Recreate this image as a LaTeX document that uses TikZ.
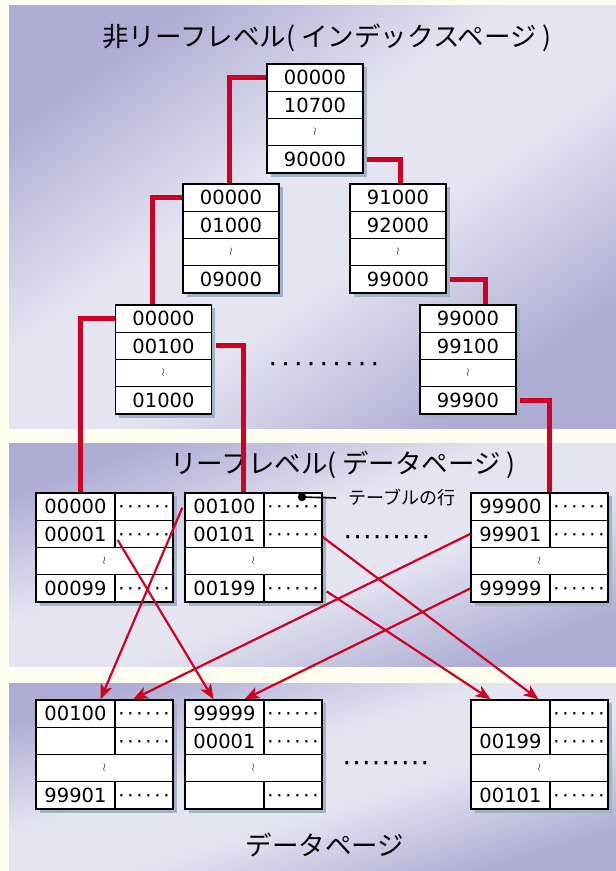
\documentclass[tikz,border=0pt]{standalone}
\usepackage{fontspec}
\setmainfont{DejaVu Sans}
\newfontfamily\jpfont{Noto Sans CJK JP}
\usetikzlibrary{arrows.meta,shadows}

\definecolor{pagecream}{RGB}{255,253,240}
\definecolor{paneedge}{RGB}{172,172,213}
\definecolor{panemid}{RGB}{229,229,241}
\definecolor{linkred}{RGB}{208,0,36}
\definecolor{shadowblue}{RGB}{160,180,198}

% light band across the middle, darker towards two corners
\pgfdeclareverticalshading{panelshade}{100bp}{color(0bp)=(paneedge); color(25bp)=(paneedge);
  color(44bp)=(panemid); color(56bp)=(panemid); color(75bp)=(paneedge); color(100bp)=(paneedge)}

% a row of dots, each in a slot of width #2
\newcommand\rowofdots[2]{\vphantom{0}\hbox to #1{\cleaders\hbox to #2{\hss\textperiodcentered\hss}\hfill}}
\newcommand\celldots{\rowofdots{54.5pt}{9pt}}
\newcommand\skiprow{{\fontsize{11}{12}\selectfont$\wr$}}

\begin{document}
\begin{tikzpicture}[x=1pt, y=-1pt,
  cell/.style={draw, line width=1.3pt, fill=white, inner sep=0pt, minimum height=27.25pt,
    font=\fontsize{19.5}{22}\selectfont,
    drop shadow={shadow xshift=3.5pt, shadow yshift=-3.5pt, fill=shadowblue, opacity=1}},
  idx/.style={cell, minimum width=96pt},
  key/.style={cell, minimum width=79pt},
  val/.style={cell, minimum width=58pt},
  gap/.style={cell, minimum width=137pt},
  title/.style={font=\jpfont\fontsize{26.5}{30}\selectfont, inner sep=0pt},
  bigdots/.style={font=\fontsize{27}{30}\selectfont, inner sep=0pt},
  treelink/.style={draw=linkred, line width=5pt},
  rowlink/.style={draw=linkred, line width=2.2pt, -{Stealth[length=15pt,width=12pt,inset=4pt]}}]

% page and the three panels
\fill[pagecream] (0,0) rectangle (616,871);
\useasboundingbox (0,0) rectangle (616,871);
\shade[shading=panelshade, shading angle=35] (9,5) rectangle (616,428);
\shade[shading=panelshade, shading angle=20] (9,443) rectangle (616,666);
\shade[shading=panelshade, shading angle=17] (9,683) rectangle (616,871);

\node[title] (nonleaf) at (327,38) {非リーフレベル( インデックスページ )};
\node[title] (leaflevel) at (343,465) {リーフレベル( データページ )};
\node[title] (datapages) at (325,845) {データページ};

% index pages
\node[idx] (top1) at (315,77.6) {00000};
\node[idx] (top2) at (315,104.9) {10700};
\node[idx] (top3) at (315,132.1) {\skiprow};
\node[idx] (top4) at (315,159.4) {90000};

\node[idx] (midl1) at (231,197.6) {00000};
\node[idx] (midl2) at (231,224.9) {01000};
\node[idx] (midl3) at (231,252.1) {\skiprow};
\node[idx] (midl4) at (231,279.4) {09000};

\node[idx] (midr1) at (398,197.6) {91000};
\node[idx] (midr2) at (398,224.9) {92000};
\node[idx] (midr3) at (398,252.1) {\skiprow};
\node[idx] (midr4) at (398,279.4) {99000};

\node[idx] (lowl1) at (163.5,318.6) {00000};
\node[idx] (lowl2) at (163.5,345.9) {00100};
\node[idx] (lowl3) at (163.5,373.1) {\skiprow};
\node[idx] (lowl4) at (163.5,400.4) {01000};

\node[idx] (lowr1) at (468,318.6) {99000};
\node[idx] (lowr2) at (468,345.9) {99100};
\node[idx] (lowr3) at (468,373.1) {\skiprow};
\node[idx] (lowr4) at (468,400.4) {99900};

\node[bigdots] (treedots) at (324,364) {\rowofdots{115pt}{12.75pt}};

% leaf pages
\node[key] (lfa1k) at (75.5,506.6) {00000};
\node[val] (lfa1v) at (144,506.6) {\celldots};
\node[key] (lfa2k) at (75.5,533.9) {00001};
\node[val] (lfa2v) at (144,533.9) {\celldots};
\node[gap] (lfa3) at (104.5,561.1) {\skiprow};
\node[key] (lfa4k) at (75.5,588.4) {00099};
\node[val] (lfa4v) at (144,588.4) {\celldots};

\node[key] (lfb1k) at (224.5,506.6) {00100};
\node[val] (lfb1v) at (293,506.6) {\celldots};
\node[key] (lfb2k) at (224.5,533.9) {00101};
\node[val] (lfb2v) at (293,533.9) {\celldots};
\node[gap] (lfb3) at (253.5,561.1) {\skiprow};
\node[key] (lfb4k) at (224.5,588.4) {00199};
\node[val] (lfb4v) at (293,588.4) {\celldots};

\node[key] (lfc1k) at (510.5,506.6) {99900};
\node[val] (lfc1v) at (579,506.6) {\celldots};
\node[key] (lfc2k) at (510.5,533.9) {99901};
\node[val] (lfc2v) at (579,533.9) {\celldots};
\node[gap] (lfc3) at (539.5,561.1) {\skiprow};
\node[key] (lfc4k) at (510.5,588.4) {99999};
\node[val] (lfc4v) at (579,588.4) {\celldots};

\node[bigdots] (leafdots) at (387,536.5) {\rowofdots{88pt}{9.75pt}};

% pointer to one table row
\coordinate (rowpin) at (302,497);
\node[font=\jpfont\fontsize{18}{20}\selectfont, inner sep=0pt, anchor=west] (rowlabel) at (348,498) {テーブルの行};
\draw[line width=1.6pt] (rowpin) -- ([xshift=-12pt]rowlabel.west);
\fill (rowpin) circle (4.2pt);

% data pages
\node[key] (dpa1k) at (75.5,713.6) {00100};
\node[val] (dpa1v) at (144,713.6) {\celldots};
\node[key] (dpa2k) at (75.5,740.9) {};
\node[val] (dpa2v) at (144,740.9) {\celldots};
\node[gap] (dpa3) at (104.5,768.1) {\skiprow};
\node[key] (dpa4k) at (75.5,795.4) {99901};
\node[val] (dpa4v) at (144,795.4) {\celldots};

\node[key] (dpb1k) at (224.5,713.6) {99999};
\node[val] (dpb1v) at (293,713.6) {\celldots};
\node[key] (dpb2k) at (224.5,740.9) {00001};
\node[val] (dpb2v) at (293,740.9) {\celldots};
\node[gap] (dpb3) at (253.5,768.1) {\skiprow};
\node[key] (dpb4k) at (224.5,795.4) {};
\node[val] (dpb4v) at (293,795.4) {\celldots};

\node[key] (dpc1k) at (510.5,713.6) {};
\node[val] (dpc1v) at (579,713.6) {\celldots};
\node[key] (dpc2k) at (510.5,740.9) {00199};
\node[val] (dpc2v) at (579,740.9) {\celldots};
\node[gap] (dpc3) at (539.5,768.1) {\skiprow};
\node[key] (dpc4k) at (510.5,795.4) {00101};
\node[val] (dpc4v) at (579,795.4) {\celldots};

\node[bigdots] (datadots) at (386,762.5) {\rowofdots{88pt}{9.75pt}};

% index links
\draw[treelink] (top1.west) -| ([xshift=-2pt]midl1.north);
\draw[treelink] ([xshift=3.5pt]top4.east) -| ([xshift=2pt]midr1.north);
\draw[treelink] (midl1.west) -| ([xshift=-11.5pt]lowl1.north);
\draw[treelink] ([xshift=3.5pt]midr4.east) -| ([xshift=17pt]lowr1.north);
\draw[treelink] (lowl1.west) -| ([xshift=4.5pt]lfa1k.north);
\draw[treelink] ([xshift=3.5pt]lowl2.east) -| ([xshift=18.5pt]lfb1k.north);
\draw[treelink] ([xshift=3.5pt]lowr4.east) -| ([xshift=-1.5pt]lfc1k.north east);

% row pointers into the data pages
\draw[rowlink] ([shift={(2pt,-6pt)}]lfa2k.east) -- ([xshift=-11pt]dpb1k.north);
\draw[rowlink] ([shift={(-2pt,-1pt)}]lfb1k.west) -- ([xshift=25pt]dpa1k.north);
\draw[rowlink] ([yshift=-3pt]lfb2v.east) -- ([xshift=28pt]dpc1k.north);
\draw[rowlink] ([shift={(4pt,-3pt)}]lfb4v.east) -- ([xshift=-20pt]dpc1k.north);
\draw[rowlink] (lfc2k.west) -- ([xshift=-11pt]dpa1v.north);
\draw[rowlink] (lfc4k.west) -- ([xshift=20pt]dpb1k.north);
\end{tikzpicture}
\end{document}
